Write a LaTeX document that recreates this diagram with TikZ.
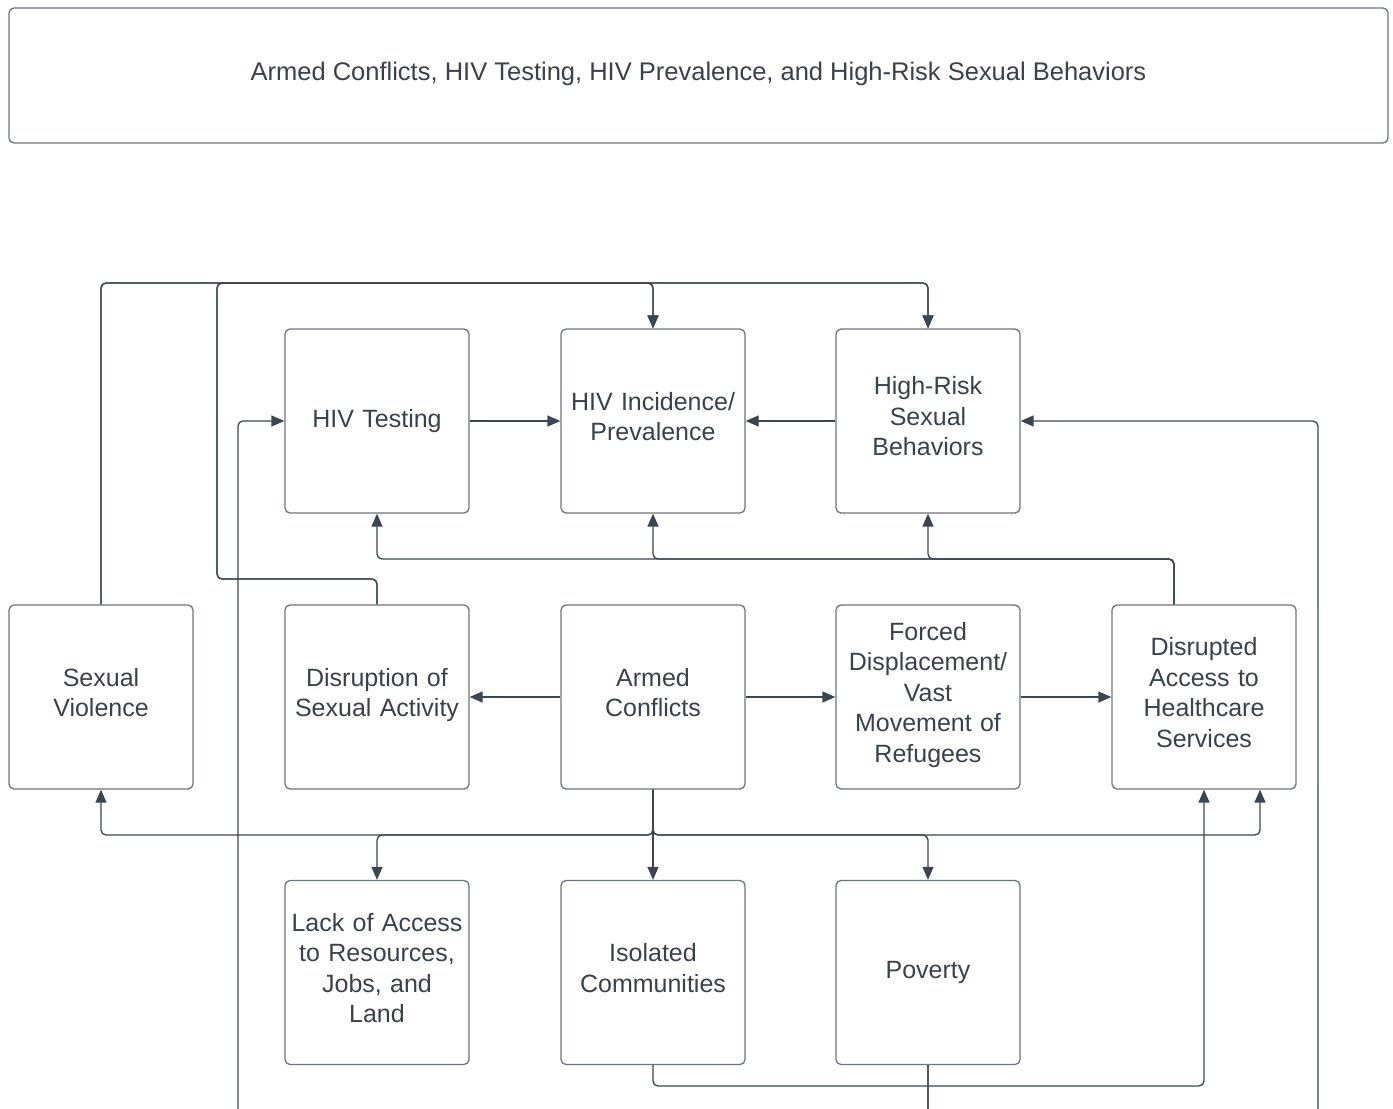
\documentclass[tikz,border=0pt]{standalone}
\usepackage{fontspec}
\setmainfont{Liberation Sans}
\usetikzlibrary{arrows.meta}
\definecolor{txt}{HTML}{3A414A}
\definecolor{bord}{HTML}{6E747C}
\definecolor{wire}{HTML}{3D4550}
\tikzset{
  box/.style={draw=bord, line width=1.3pt, rounded corners=5pt, minimum width=184pt, minimum height=184pt,
    text width=176pt, align=center, text=txt, font=\fontsize{25}{30.5}\selectfont, inner sep=0pt,
    execute at end node={\strut}},
  arr/.style={draw=wire, line width=1.3pt, rounded corners=5pt, -{Triangle[length=13pt,width=11pt]}},
  ln/.style={draw=wire, line width=1.3pt, rounded corners=5pt}
}
\begin{document}
\begin{tikzpicture}[x=1pt,y=-1pt]
\useasboundingbox (0,0) rectangle (1393,1109);
\node[draw=bord, line width=1.3pt, rounded corners=5pt, minimum width=1379pt, minimum height=135pt, text=txt,
  font=\fontsize{25.5}{30}\selectfont, inner sep=0pt, text depth=9pt] (title) at (698.5,75.5)
  {Armed Conflicts, HIV Testing, HIV Prevalence, and High-Risk Sexual Behaviors};
% row 1
\node[box] (ht) at (377,421) {HIV Testing};
\node[box] (inc) at (653,421) {HIV Incidence/\\Prevalence};
\node[box] (hr) at (928,421) {High-Risk\\Sexual\\Behaviors};
% row 2
\node[box] (sv) at (101,697) {Sexual\\Violence};
\node[box] (dis) at (377,697) {Disruption of\\Sexual Activity};
\node[box] (ac) at (653,697) {Armed\\Conflicts};
\node[box] (fd) at (928,697) {Forced\\Displacement/\\Vast\\Movement of\\Refugees};
\node[box] (da) at (1204,697) {Disrupted\\Access to\\Healthcare\\Services};
% row 3
\node[box] (lack) at (377,972.5) {Lack of Access\\to Resources,\\Jobs, and\\Land};
\node[box] (iso) at (653,972.5) {Isolated\\Communities};
\node[box] (pov) at (928,972.5) {Poverty};
% horizontal arrows
\draw[arr] (ht.east) -- (inc.west);
\draw[arr] (hr.west) -- (inc.east);
\draw[arr] (ac.west) -- (dis.east);
\draw[arr] (ac.east) -- (fd.west);
\draw[arr] (fd.east) -- (da.west);
% top bus
\draw[arr] (sv.north) -- (sv.north |- 0,283) -- (inc.north |- 0,283) -- (inc.north);
\draw[arr] (sv.north) -- (sv.north |- 0,283) -- (hr.north |- 0,283) -- (hr.north);
\draw[arr] (dis.north) -- (dis.north |- 0,579) -- (217,579) -- (217,283) -- (inc.north |- 0,283) -- (inc.north);
\draw[arr] (dis.north) -- (dis.north |- 0,579) -- (217,579) -- (217,283) -- (hr.north |- 0,283) -- (hr.north);
% disrupted access up
\draw[arr] ([xshift=-30pt]da.north) -- ([xshift=-30pt]da.north |- 0,559) -- (hr.south |- 0,559) -- (hr.south);
\draw[arr] ([xshift=-30pt]da.north) -- ([xshift=-30pt]da.north |- 0,559) -- (inc.south |- 0,559) -- (inc.south);
\draw[arr] ([xshift=-30pt]da.north) -- ([xshift=-30pt]da.north |- 0,559) -- (ht.south |- 0,559) -- (ht.south);
% armed conflicts down bus
\draw[arr] (ac.south) -- (ac.south |- 0,835) -- (sv.south |- 0,835) -- (sv.south);
\draw[arr] (ac.south) -- (ac.south |- 0,835) -- (lack.north |- 0,835) -- (lack.north);
\draw[arr] (ac.south) -- (iso.north);
\draw[arr] (ac.south) -- (ac.south |- 0,835) -- (pov.north |- 0,835) -- (pov.north);
\draw[arr] (ac.south) -- (ac.south |- 0,835) -- ([xshift=56pt]da.south |- 0,835) -- ([xshift=56pt]da.south);
% isolated -> disrupted access
\draw[arr] (iso.south) -- (iso.south |- 0,1086) -- (da.south |- 0,1086) -- (da.south);
% poverty loop
\draw[arr] (pov.south) -- (pov.south |- 0,1114) -- (238,1114) -- (238,421) -- (ht.west);
\draw[arr] (pov.south) -- (pov.south |- 0,1114) -- (1318,1114) -- (1318,421) -- (hr.east);
\end{tikzpicture}
\end{document}
